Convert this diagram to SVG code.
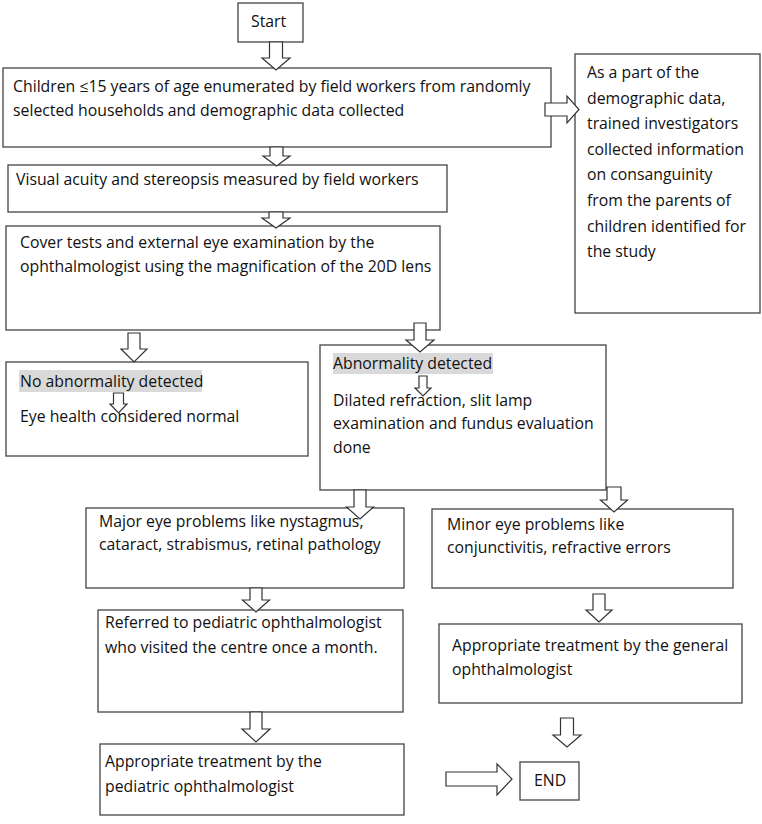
<svg xmlns="http://www.w3.org/2000/svg" width="762" height="824" viewBox="0 0 762 824">
<style>
.box{fill:#fff;stroke:#444;stroke-width:1.3}
.arr{fill:#fff;stroke:#333;stroke-width:1.2;stroke-linejoin:miter}
.hl{fill:#d9d9d9}
text{font-family:"Open Sans","Liberation Sans",sans-serif;font-size:15.8px;fill:#111}
</style>
<rect width="762" height="824" fill="#fff"/>
<g id="start"><rect class="box" x="238" y="3" width="65" height="39"/><text x="251" y="27">Start</text></g>
<g id="enumerate"><rect class="box" x="3" y="68" width="548" height="79"/>
<text x="13" y="92">Children ≤15 years of age enumerated by field workers from randomly</text>
<text x="13" y="116">selected households and demographic data collected</text></g>
<g id="demographic"><rect class="box" x="575" y="54" width="185" height="259"/>
<text x="587" y="78">As a part of the</text>
<text x="587" y="104">demographic data,</text>
<text x="587" y="129">trained investigators</text>
<text x="587" y="155">collected information</text>
<text x="587" y="180">on consanguinity</text>
<text x="587" y="206">from the parents of</text>
<text x="587" y="232">children identified for</text>
<text x="587" y="257">the study</text></g>
<g id="visual"><rect class="box" x="8" y="165" width="439" height="47"/>
<text x="16" y="185">Visual acuity and stereopsis measured by field workers</text></g>
<g id="cover"><rect class="box" x="6" y="226" width="434" height="104"/>
<text x="20" y="248">Cover tests and external eye examination by the</text>
<text x="20" y="272">ophthalmologist using the magnification of the 20D lens</text></g>
<g id="normal"><rect class="box" x="6" y="362" width="302" height="94"/>
<rect class="hl" x="19" y="370" width="183" height="22"/>
<text x="20" y="387">No abnormality detected</text>
<text x="20" y="422">Eye health considered normal</text>
<polygon class="arr" points="113.5,393 123.5,393 123.5,404 127,404 118.5,413 110,404 113.5,404"/></g>
<g id="abnormal"><rect class="box" x="320" y="345" width="286" height="145"/>
<rect class="hl" x="333" y="353" width="160" height="21"/>
<text x="333" y="369">Abnormality detected</text>
<text x="333" y="406">Dilated refraction, slit lamp</text>
<text x="333" y="429">examination and fundus evaluation</text>
<text x="333" y="453">done</text>
<polygon class="arr" points="419,376 427,376 427,388 431,388 423,396 415,388 419,388"/></g>
<g id="major"><rect class="box" x="86" y="508" width="318" height="80"/>
<text x="99" y="527">Major eye problems like nystagmus,</text>
<text x="99" y="550">cataract, strabismus, retinal pathology</text></g>
<g id="minor"><rect class="box" x="432" y="509" width="301" height="79"/>
<text x="447" y="530">Minor eye problems like</text>
<text x="447" y="553">conjunctivitis, refractive errors</text></g>
<g id="referred"><rect class="box" x="98" y="610" width="305" height="102"/>
<text x="105" y="628">Referred to pediatric ophthalmologist</text>
<text x="105" y="653">who visited the centre once a month.</text></g>
<g id="treat-general"><rect class="box" x="439" y="624" width="303" height="79"/>
<text x="452" y="651">Appropriate treatment by the general</text>
<text x="452" y="675">ophthalmologist</text></g>
<g id="treat-pediatric"><rect class="box" x="100" y="744" width="304" height="71"/>
<text x="105" y="767">Appropriate treatment by the</text>
<text x="105" y="792">pediatric ophthalmologist</text></g>
<g id="end"><rect class="box" x="520" y="762" width="59" height="38"/>
<text x="534" y="786">END</text></g>
<g id="connectors">
<polygon class="arr" points="269.5,42 282.5,42 282.5,58 290,58 276,70 262,58 269.5,58"/>
<polygon class="arr" points="270,147 283,147 283,156 290,156 276.5,166 263,156 270,156"/>
<polygon class="arr" points="269,212 283,212 283,218 290,218 276,228 262,218 269,218"/>
<polygon class="arr" points="128,333 140,333 140,349 147,349 134,362 121,349 128,349"/>
<polygon class="arr" points="414,323 426,323 426,340 434,340 420,352 406,340 414,340"/>
<polygon class="arr" points="354,490 366,490 366,507 373.5,507 360,519 346.5,507 354,507"/>
<polygon class="arr" points="607,487 621,487 621,500 627.5,500 614,512 600.5,500 607,500"/>
<polygon class="arr" points="250,588 262,588 262,600 269.5,600 256,612 242.5,600 250,600"/>
<polygon class="arr" points="593,594 605,594 605,610 612,610 599,622 586,610 593,610"/>
<polygon class="arr" points="250,712 262,712 262,729 270,729 256,742 242,729 250,729"/>
<polygon class="arr" points="560.5,718 573.5,718 573.5,735 581,735 567,747 553,735 560.5,735"/>
<polygon class="arr" points="545,103 567,103 567,96 579,109.5 567,123 567,116 545,116"/>
<polygon class="arr" points="446,772 497,772 497,764 512,779 497,795 497,786 446,786"/>
</g>
</svg>
